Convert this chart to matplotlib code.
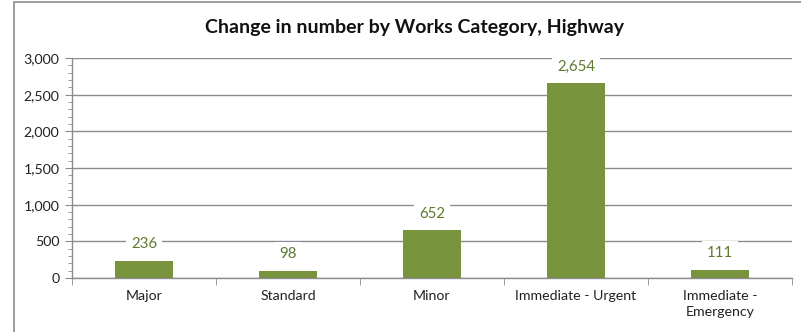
import matplotlib
matplotlib.use("Agg")
import matplotlib.pyplot as plt
from matplotlib.patches import Rectangle
from matplotlib.ticker import MultipleLocator, FuncFormatter

categories = ["Major", "Standard", "Minor", "Immediate - Urgent", "Immediate -\nEmergency"]
values = [236, 98, 652, 2654, 111]

bar_color = "#77933C"
label_color = "#5E7A2E"
grid_color = "#8C8C8C"

plt.rcParams["font.family"] = ["Lato", "DejaVu Sans"]

fig = plt.figure(figsize=(8.01, 3.32), dpi=100)
ax = fig.add_axes([72 / 801, 1 - 278 / 332, 720 / 801, 220 / 332])

x = list(range(len(categories)))
bars = ax.bar(x, values, width=0.4, color=bar_color, zorder=3)

ax.set_xlim(-0.5, len(categories) - 0.5)
ax.set_ylim(0, 3000)
ax.yaxis.set_major_locator(MultipleLocator(500))
ax.yaxis.set_minor_locator(MultipleLocator(100))
ax.yaxis.set_major_formatter(FuncFormatter(lambda v, p: f"{int(v):,}"))
ax.grid(axis="y", color=grid_color, linewidth=1, zorder=0)

ax.set_xticks(x)
ax.set_xticklabels(categories, fontsize=10.2, color="#222222", linespacing=1.35)
ax.set_xticks([i + 0.5 for i in range(-1, len(categories))], minor=True)
ax.tick_params(axis="x", which="major", length=0, pad=9)
ax.tick_params(axis="x", which="minor", length=5, color=grid_color, direction="out")
ax.tick_params(axis="y", which="major", length=5, color=grid_color, labelsize=10.2,
               labelcolor="#222222", pad=4)
ax.tick_params(axis="y", which="minor", length=3, color=grid_color)

for s in ["top", "right"]:
    ax.spines[s].set_visible(False)
for s in ["left", "bottom"]:
    ax.spines[s].set_color(grid_color)
    ax.spines[s].set_linewidth(1)
ax.spines["bottom"].set_zorder(4)

for b, v in zip(bars, values):
    ax.annotate(f"{v:,}", (b.get_x() + b.get_width() / 2, v), xytext=(0, 12),
                textcoords="offset points", ha="center", va="center",
                fontsize=10.8, color=label_color, zorder=5,
                bbox=dict(boxstyle="square,pad=0.35", fc="white", ec="none"))

fig.text(0.517, 1 - 28 / 332, "Change in number by Works Category, Highway",
         ha="center", va="center", fontsize=14, fontweight="bold", color="#111111")

fig.patches.append(Rectangle((14 / 801, -0.1), 1.0, 1 - 2 / 332 + 0.1,
                             transform=fig.transFigure, fill=False,
                             edgecolor="#8C8C8C", linewidth=1.2))

fig.savefig("out.png", dpi=100)
